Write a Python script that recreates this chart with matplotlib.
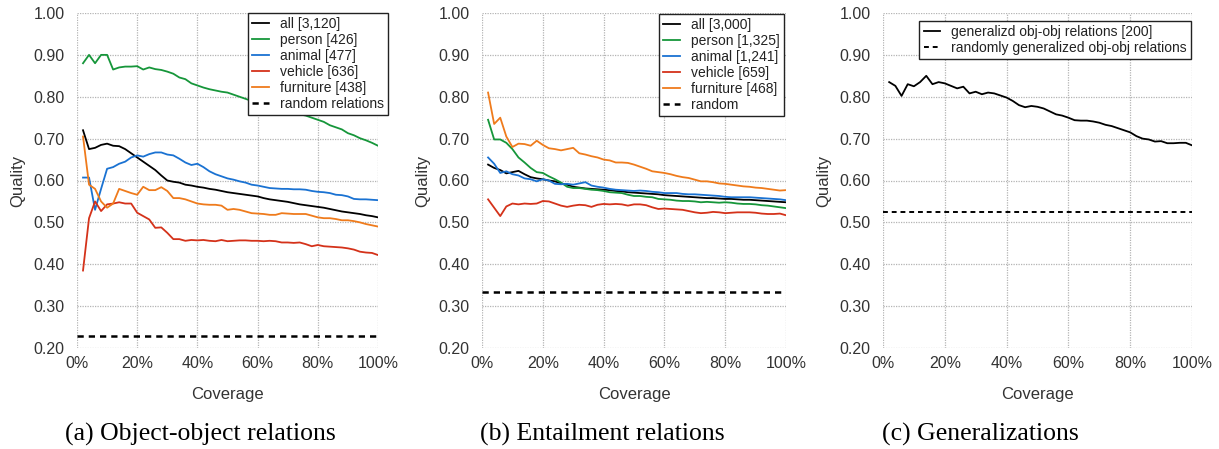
import numpy as np
import matplotlib
matplotlib.use("Agg")
import matplotlib.pyplot as plt
from matplotlib.ticker import FuncFormatter

plt.rcParams["font.family"] = ["Liberation Sans", "DejaVu Sans"]

# coverage in percent, one point every 2%
coverage = list(range(2, 101, 2))

# (a) object-object relations
a_all = [0.720, 0.675, 0.678, 0.685, 0.688, 0.683, 0.682, 0.675, 0.665, 0.655,
         0.645, 0.635, 0.625, 0.612, 0.600, 0.597, 0.595, 0.590, 0.588, 0.585,
         0.583, 0.580, 0.578, 0.575, 0.572, 0.570, 0.568, 0.566, 0.564, 0.562,
         0.558, 0.555, 0.553, 0.551, 0.549, 0.546, 0.543, 0.541, 0.539, 0.537,
         0.535, 0.532, 0.529, 0.526, 0.524, 0.522, 0.520, 0.517, 0.515, 0.512]
a_person = [0.880, 0.900, 0.880, 0.900, 0.900, 0.865, 0.870, 0.872, 0.872, 0.873,
            0.865, 0.870, 0.866, 0.864, 0.860, 0.855, 0.846, 0.842, 0.832, 0.827,
            0.822, 0.818, 0.815, 0.812, 0.810, 0.805, 0.800, 0.795, 0.790, 0.788,
            0.785, 0.780, 0.775, 0.770, 0.765, 0.762, 0.758, 0.755, 0.750, 0.745,
            0.740, 0.732, 0.727, 0.722, 0.713, 0.708, 0.701, 0.696, 0.690, 0.683]
a_animal = [0.607, 0.607, 0.530, 0.580, 0.628, 0.632, 0.640, 0.645, 0.655, 0.660,
            0.657, 0.663, 0.667, 0.667, 0.662, 0.660, 0.652, 0.643, 0.637, 0.640,
            0.632, 0.622, 0.615, 0.610, 0.605, 0.602, 0.598, 0.595, 0.590, 0.588,
            0.585, 0.582, 0.581, 0.580, 0.580, 0.579, 0.579, 0.578, 0.575, 0.573,
            0.572, 0.570, 0.566, 0.565, 0.562, 0.556, 0.555, 0.555, 0.554, 0.553]
a_vehicle = [0.385, 0.510, 0.550, 0.527, 0.543, 0.545, 0.548, 0.545, 0.545, 0.523,
             0.515, 0.507, 0.487, 0.488, 0.475, 0.460, 0.460, 0.456, 0.458, 0.457,
             0.458, 0.456, 0.455, 0.458, 0.455, 0.456, 0.457, 0.457, 0.456, 0.456,
             0.455, 0.456, 0.455, 0.452, 0.452, 0.451, 0.452, 0.448, 0.443, 0.446,
             0.443, 0.442, 0.441, 0.440, 0.438, 0.435, 0.430, 0.428, 0.427, 0.422]
a_furniture = [0.705, 0.590, 0.580, 0.550, 0.535, 0.545, 0.580, 0.575, 0.570, 0.566,
               0.585, 0.577, 0.577, 0.584, 0.575, 0.558, 0.558, 0.555, 0.550, 0.545,
               0.543, 0.542, 0.542, 0.540, 0.530, 0.532, 0.530, 0.526, 0.522, 0.521,
               0.520, 0.518, 0.518, 0.522, 0.521, 0.520, 0.520, 0.520, 0.516, 0.512,
               0.510, 0.510, 0.508, 0.505, 0.505, 0.503, 0.500, 0.496, 0.493, 0.490]
a_random = 0.228

# (b) entailment relations
b_all = [0.638, 0.630, 0.625, 0.617, 0.620, 0.623, 0.615, 0.608, 0.605, 0.603,
         0.600, 0.598, 0.593, 0.590, 0.585, 0.583, 0.581, 0.580, 0.579, 0.578,
         0.577, 0.575, 0.574, 0.572, 0.571, 0.570, 0.569, 0.568, 0.567, 0.565,
         0.564, 0.563, 0.562, 0.561, 0.560, 0.559, 0.558, 0.558, 0.557, 0.556,
         0.556, 0.555, 0.554, 0.554, 0.553, 0.552, 0.551, 0.550, 0.549, 0.548]
b_person = [0.745, 0.698, 0.698, 0.690, 0.675, 0.655, 0.643, 0.630, 0.620, 0.618,
            0.610, 0.603, 0.595, 0.585, 0.582, 0.582, 0.580, 0.578, 0.577, 0.575,
            0.572, 0.571, 0.570, 0.566, 0.563, 0.563, 0.561, 0.560, 0.556, 0.555,
            0.554, 0.552, 0.551, 0.551, 0.550, 0.548, 0.549, 0.548, 0.547, 0.548,
            0.547, 0.545, 0.544, 0.544, 0.543, 0.541, 0.540, 0.538, 0.536, 0.534]
b_animal = [0.655, 0.640, 0.618, 0.622, 0.615, 0.612, 0.605, 0.603, 0.598, 0.603,
            0.600, 0.592, 0.591, 0.592, 0.590, 0.593, 0.596, 0.588, 0.585, 0.583,
            0.580, 0.578, 0.577, 0.576, 0.575, 0.576, 0.575, 0.573, 0.572, 0.570,
            0.570, 0.570, 0.568, 0.567, 0.567, 0.566, 0.565, 0.564, 0.563, 0.561,
            0.560, 0.560, 0.560, 0.560, 0.559, 0.558, 0.557, 0.556, 0.555, 0.553]
b_vehicle = [0.555, 0.535, 0.515, 0.538, 0.545, 0.543, 0.545, 0.544, 0.545, 0.551,
             0.550, 0.545, 0.540, 0.537, 0.540, 0.542, 0.541, 0.537, 0.542, 0.544,
             0.543, 0.544, 0.543, 0.540, 0.543, 0.543, 0.541, 0.536, 0.532, 0.533,
             0.532, 0.531, 0.530, 0.527, 0.524, 0.522, 0.523, 0.525, 0.524, 0.522,
             0.523, 0.524, 0.524, 0.524, 0.523, 0.521, 0.520, 0.520, 0.521, 0.517]
b_furniture = [0.810, 0.735, 0.750, 0.705, 0.680, 0.688, 0.687, 0.683, 0.695, 0.685,
               0.677, 0.675, 0.672, 0.675, 0.678, 0.665, 0.662, 0.658, 0.655, 0.650,
               0.648, 0.643, 0.643, 0.642, 0.638, 0.633, 0.628, 0.622, 0.620, 0.618,
               0.615, 0.611, 0.608, 0.606, 0.602, 0.598, 0.598, 0.596, 0.593, 0.592,
               0.590, 0.588, 0.586, 0.585, 0.583, 0.582, 0.580, 0.578, 0.576, 0.577]
b_random = 0.333

# (c) generalizations
c_gen = [0.835, 0.826, 0.802, 0.830, 0.825, 0.835, 0.850, 0.830, 0.835, 0.832,
         0.826, 0.820, 0.824, 0.808, 0.812, 0.806, 0.810, 0.808, 0.803, 0.798,
         0.790, 0.780, 0.775, 0.778, 0.776, 0.772, 0.765, 0.758, 0.755, 0.750,
         0.744, 0.743, 0.743, 0.741, 0.738, 0.733, 0.730, 0.725, 0.720, 0.715,
         0.706, 0.700, 0.698, 0.693, 0.694, 0.689, 0.689, 0.690, 0.690, 0.684]
c_random = 0.524

C_ALL = "black"
C_PERSON = "#16963a"
C_ANIMAL = "#1a72d2"
C_VEHICLE = "#d4321a"
C_FURNITURE = "#ef7b1c"
TXT = "#333333"

fig = plt.figure(figsize=(12.19, 4.49), dpi=100)
W, H = 1219.0, 449.0


def _axes(left, right):
    ax = fig.add_axes([left / W, 1 - 348 / H, (right - left) / W, 335 / H])
    ax.set_xlim(0, 100)
    ax.set_ylim(0.2, 1.0)
    ax.set_xticks(range(0, 101, 20))
    ax.set_yticks(np.arange(0.2, 1.01, 0.1))
    ax.xaxis.set_major_formatter(FuncFormatter(lambda v, p: f"{v:.0f}%"))
    ax.yaxis.set_major_formatter(FuncFormatter(lambda v, p: f"{v:.2f}"))
    ax.tick_params(length=0, labelsize=11.5, colors=TXT)
    ax.tick_params(axis="y", pad=9)
    ax.tick_params(axis="x", pad=6)
    for s in ax.spines.values():
        s.set_visible(False)
    ax.grid(True, color="#b4b4b4", linestyle=(0, (1, 1)), linewidth=0.9)
    ax.set_axisbelow(True)
    ax.set_xlabel("Coverage", fontsize=12, color=TXT, labelpad=11)
    ax.set_ylabel("Quality", fontsize=12, color=TXT, labelpad=6)
    return ax


def _legend(ax, anchor):
    leg = ax.legend(loc="upper right", bbox_to_anchor=anchor, fontsize=10,
                    handlelength=1.2, handletextpad=0.8, labelspacing=0.14,
                    borderpad=0.3, borderaxespad=0, fancybox=False,
                    framealpha=1, edgecolor="#222222")
    leg.get_frame().set_linewidth(1.0)
    for t in leg.get_texts():
        t.set_color("#222222")
    return leg


lw = 1.3
dash = (0, (2.5, 2))

# (a)
ax = _axes(77, 378)
ax.plot(coverage, a_all, color=C_ALL, lw=lw, label="all [3,120]")
ax.plot(coverage, a_person, color=C_PERSON, lw=lw, label="person [426]")
ax.plot(coverage, a_animal, color=C_ANIMAL, lw=lw, label="animal [477]")
ax.plot(coverage, a_vehicle, color=C_VEHICLE, lw=lw, label="vehicle [636]")
ax.plot(coverage, a_furniture, color=C_FURNITURE, lw=lw, label="furniture [438]")
ax.plot([0, 100], [a_random, a_random], color="black", lw=1.8, linestyle=dash,
        label="random relations")
_legend(ax, (1.033, 1.0))

# (b)
ax = _axes(482, 786)
ax.plot(coverage, b_all, color=C_ALL, lw=lw, label="all [3,000]")
ax.plot(coverage, b_person, color=C_PERSON, lw=lw, label="person [1,325]")
ax.plot(coverage, b_animal, color=C_ANIMAL, lw=lw, label="animal [1,241]")
ax.plot(coverage, b_vehicle, color=C_VEHICLE, lw=lw, label="vehicle [659]")
ax.plot(coverage, b_furniture, color=C_FURNITURE, lw=lw, label="furniture [468]")
ax.plot([0, 100], [b_random, b_random], color="black", lw=1.8, linestyle=dash,
        label="random")
_legend(ax, (0.993, 0.997))

# (c)
ax = _axes(883, 1192)
ax.plot(coverage, c_gen, color=C_ALL, lw=lw, label="generalizd obj-obj relations [200]")
ax.plot([0, 100], [c_random, c_random], color="black", lw=1.4, linestyle=dash,
        label="randomly generalized obj-obj relations")
_legend(ax, (0.997, 0.976))

# captions
for xc, cap in [(200, "(a) Object-object relations"),
                (602, "(b) Entailment relations"),
                (980, "(c) Generalizations")]:
    fig.text(xc / W, 1 - 434 / H, cap, ha="center", va="center",
             fontsize=18.5, family=["Liberation Serif", "DejaVu Serif"])

fig.savefig("out.png", dpi=100)
